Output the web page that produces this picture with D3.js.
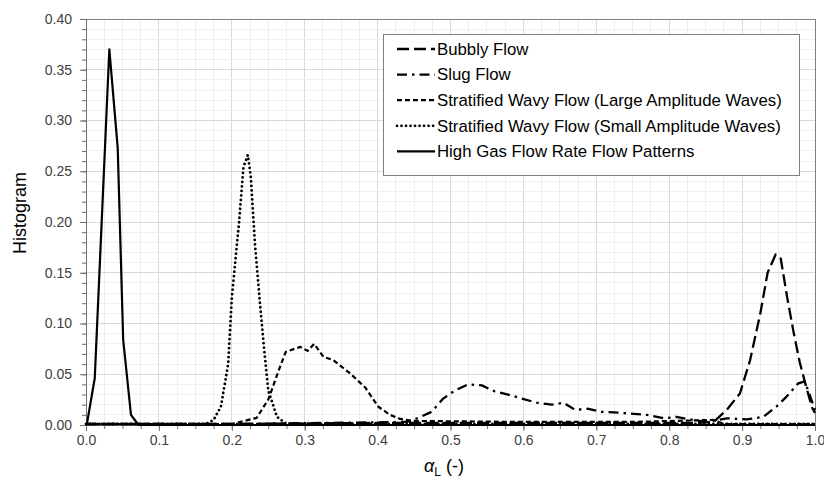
<!DOCTYPE html>
<html><head><meta charset="utf-8">
<script src="https://cdn.jsdelivr.net/npm/d3@7"></script>
<style>body{margin:0;background:#fff}svg{display:block;font-family:"Liberation Sans",Arial,sans-serif}</style>
</head><body><svg id="c" width="824" height="482"></svg>
<script>
// ---- data ----
const seriesNames = ["Bubbly Flow","Slug Flow","Stratified Wavy Flow (Large Amplitude Waves)","Stratified Wavy Flow (Small Amplitude Waves)","High Gas Flow Rate Flow Patterns"];
const bubblyX = [0,0.2,0.4,0.6,0.84,0.861,0.879,0.897,0.911,0.925,0.935,0.946,0.953,0.962,0.971,0.979,0.987,0.996,1.0];
const bubblyY = [0.001,0.001,0.002,0.002,0.002,0.003,0.015,0.031,0.064,0.11,0.15,0.168,0.164,0.125,0.09,0.062,0.04,0.017,0.012];
const slugX = [0,0.2,0.44,0.456,0.474,0.49,0.506,0.524,0.543,0.561,0.579,0.598,0.618,0.639,0.655,0.671,0.689,0.707,0.733,0.751,0.769,0.792,0.81,0.829,0.851,0.879,0.906,0.929,0.947,0.961,0.977,0.986,1.0];
const slugY = [0.001,0.001,0.003,0.007,0.013,0.026,0.034,0.040,0.039,0.033,0.030,0.026,0.022,0.020,0.022,0.015,0.016,0.013,0.012,0.011,0.010,0.0066,0.008,0.0055,0.003,0.0066,0.0055,0.008,0.018,0.028,0.041,0.043,0.015];
const largeX = [0,0.2,0.234,0.25,0.266,0.274,0.294,0.304,0.313,0.326,0.339,0.362,0.383,0.401,0.417,0.431,0.449,0.6,0.75,0.86,0.875,1.0];
const largeY = [0.001,0.001,0.007,0.025,0.057,0.072,0.077,0.073,0.080,0.067,0.064,0.051,0.037,0.018,0.010,0.006,0.004,0.003,0.003,0.005,0.001,0.001];
const smallX = [0,0.165,0.175,0.185,0.195,0.2,0.21,0.216,0.222,0.226,0.232,0.239,0.244,0.25,0.262,0.275,1.0];
const smallY = [0.001,0.001,0.005,0.018,0.06,0.125,0.2,0.254,0.266,0.245,0.176,0.117,0.077,0.034,0.008,0.001,0.001];
const highX = [0.001,0.012,0.032,0.0435,0.051,0.0617,0.072,1.0];
const highY = [0,0.046,0.37,0.273,0.084,0.010,0,0];
const xTicks = [0,0.1,0.2,0.3,0.4,0.5,0.6,0.7,0.8,0.9,1.0];
const yTicks = [0,0.05,0.10,0.15,0.20,0.25,0.30,0.35,0.40];

// ---- layout ----
const svg = d3.select("#c");
const L=86, R=815, T=19, B=425;
const x = d3.scaleLinear().domain([0,1]).range([L,R]);
const y = d3.scaleLinear().domain([0,0.4]).range([B,T]);

// grid
const g = svg.append("g");
const xMinor = d3.range(0,1.0001,0.025), yMinor = d3.range(0,0.40001,0.01);
g.selectAll(".vx").data(xMinor).join("line").attr("x1",d=>x(d)).attr("x2",d=>x(d)).attr("y1",T).attr("y2",B)
 .attr("stroke",d=>Math.abs(d*10-Math.round(d*10))<1e-6?"#d9d9d9":"#efefef").attr("stroke-width",1).attr("shape-rendering","crispEdges");
g.selectAll(".hy").data(yMinor).join("line").attr("y1",d=>y(d)).attr("y2",d=>y(d)).attr("x1",L).attr("x2",R)
 .attr("stroke",d=>Math.abs(d*20-Math.round(d*20))<1e-6?"#d9d9d9":"#efefef").attr("stroke-width",1).attr("shape-rendering","crispEdges");
svg.append("rect").attr("x",L).attr("y",T).attr("width",R-L).attr("height",B-T).attr("fill","none").attr("stroke","#7f7f7f").attr("shape-rendering","crispEdges");

// axes
const xAxis = d3.axisBottom(x).tickValues(xTicks).tickFormat(d3.format(".1f")).tickSize(6).tickPadding(4);
const xAxisMinor = d3.axisBottom(x).tickValues(xMinor).tickFormat("").tickSize(4);
const yAxis = d3.axisLeft(y).tickValues(yTicks).tickFormat(d3.format(".2f")).tickSize(6).tickPadding(8);
const yAxisMinor = d3.axisLeft(y).tickValues(yMinor).tickFormat("").tickSize(4);
function style(sel){sel.select(".domain").attr("stroke","#6f6f6f");sel.selectAll("line").attr("stroke","#6f6f6f");sel.selectAll("text").attr("fill","#404040").attr("font-size","14px");}
svg.append("g").attr("transform",`translate(0,${B})`).call(xAxisMinor).call(style);
svg.append("g").attr("transform",`translate(0,${B})`).call(xAxis).call(style);
svg.append("g").attr("transform",`translate(${L},0)`).call(yAxisMinor).call(style);
svg.append("g").attr("transform",`translate(${L},0)`).call(yAxis).call(style);

// series
const dashes = ["12,5","10,5,2.5,5","5,3","0.01,4.5",null];
const widths = [2.3,2.3,2.2,2.8,2.2];
const seriesData = [[bubblyX,bubblyY],[slugX,slugY],[largeX,largeY],[smallX,smallY],[highX,highY]];
const line = d3.line().x(d=>x(d[0])).y(d=>y(d[1]));
seriesData.forEach(([xs,ys],i)=>{
  const pts = xs.map((v,j)=>[v,ys[j]]);
  svg.append("path").datum(pts).attr("d",line).attr("fill","none").attr("stroke","#000")
    .attr("stroke-width",widths[i]).attr("stroke-linecap",i===3?"round":"butt").attr("stroke-linejoin","round")
    .attr("stroke-dasharray",dashes[i]);
});

// legend
const lg = svg.append("g");
lg.append("rect").attr("x",383.5).attr("y",34.5).attr("width",416).attr("height",141).attr("fill","#fff").attr("stroke","#7f7f7f");
seriesNames.forEach((n,i)=>{
  const yy = 49 + i*25.6;
  lg.append("line").attr("x1",397).attr("x2",435).attr("y1",yy).attr("y2",yy).attr("stroke","#000")
    .attr("stroke-width",widths[i]).attr("stroke-linecap",i===3?"round":"butt").attr("stroke-dasharray",dashes[i]);
  lg.append("text").attr("x",437).attr("y",yy).attr("dy","0.35em").attr("font-size","16.8px").attr("fill","#000").text(n);
});

// axis titles
svg.append("text").attr("transform","translate(26,213) rotate(-90)").attr("text-anchor","middle").attr("font-size","18px").attr("fill","#000").text("Histogram");
const xt = svg.append("text").attr("x",444).attr("y",472).attr("text-anchor","middle").attr("font-size","18px").attr("fill","#000");
xt.append("tspan").attr("font-style","italic").text("α");
xt.append("tspan").attr("font-size","12px").attr("dy","4").text("L");
xt.append("tspan").attr("dy","-4").text(" (-)");
</script></body></html>
